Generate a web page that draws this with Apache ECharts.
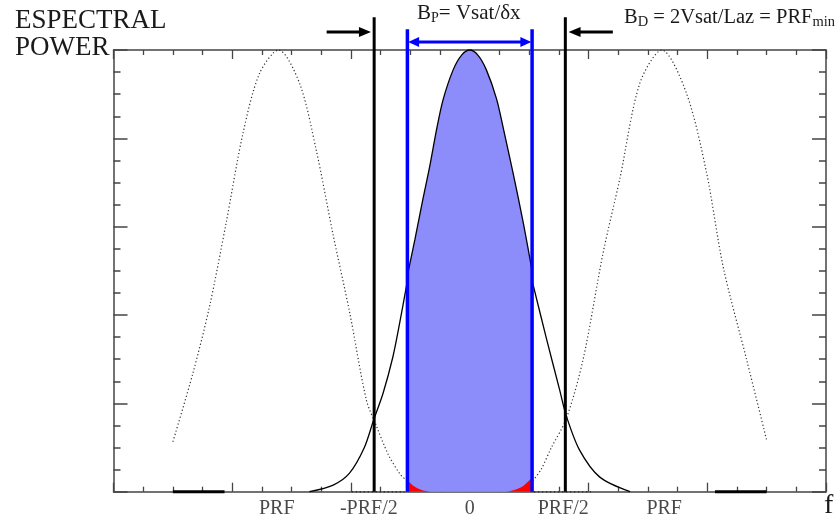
<!DOCTYPE html>
<html><head><meta charset="utf-8">
<script src="https://cdn.jsdelivr.net/npm/echarts@6/dist/echarts.min.js"></script>
<style>html,body{margin:0;padding:0;background:#fff}#c{width:840px;height:521px}</style>
</head><body><div id="c"></div>
<script>
// frequency axis in arbitrary units, power normalised to 1
const halfPRF = 3.22;
const bandEdge = 2.1;
const tickLabelPositions = [-6.5, -3.4, 0, 3.15, 6.55];
const tickLabels = ['PRF', '-PRF/2', '0', 'PRF/2', 'PRF'];

const mainInner = [[-2.1,0.49],[-1.85,0.57],[-1.57,0.665],[-1.35,0.736],[-1.12,0.819],[-0.9,0.887],[-0.56,0.955],[-0.28,0.988],[0,1],[0.28,0.988],[0.56,0.955],[0.9,0.89],[1.12,0.826],[1.46,0.721],[1.8,0.61],[2.02,0.53],[2.1,0.5]];
const mainLeftTail = [[-5.4,0],[-4.6,0.015],[-4.05,0.042],[-3.55,0.1],[-3.24,0.162],[-2.92,0.223],[-2.59,0.305],[-2.36,0.382],[-2.12,0.47]];
const mainRightTail = [[2.12,0.472],[2.59,0.345],[3.03,0.23],[3.25,0.172],[3.7,0.094],[4.38,0.033],[5.4,0]];
const leftAlias = [[-10,0.113],[-9.33,0.267],[-8.77,0.418],[-8.21,0.607],[-7.64,0.811],[-7.08,0.947],[-6.44,1.0],[-5.73,0.924],[-5.17,0.773],[-4.61,0.584],[-4.04,0.404],[-3.48,0.207],[-3.15,0.15],[-2.75,0.085],[-2.36,0.041],[-2.12,0.025]];
const rightAlias = [[2.12,0.025],[2.4,0.05],[2.75,0.1],[3.25,0.165],[3.82,0.3],[4.49,0.54],[5.06,0.71],[5.73,0.925],[6.47,1.0],[7.3,0.902],[7.98,0.721],[8.54,0.508],[9.33,0.298],[10.0,0.117]];
const redLeft = [[-2.1,0.026],[-1.85,0.011],[-1.6,0.003],[-1.35,0]];
const redRight = [[1.23,0],[1.5,0.004],[1.8,0.013],[2.1,0.032]];
const baseThickLeft = [[-10,0],[-8.26,0]];
const baseThickRight = [[8.26,0],[10,0]];
const baseDotsLeft = [[-3.98,0],[-2.2,0]];
const baseDotsRight = [[2.16,0],[4.08,0]];
const blackLineTop = 1.074;
const blueLineTop = 1.047;
const blackArrowY = 1.041;
const blueArrowY = 1.018;
const blackArrowFrom = 4.82, blackArrowHead = 3.53;
const blueArrowHead = 1.89;

const FONT = 'Liberation Serif';
const chart = echarts.init(document.getElementById('c'), null, {renderer: 'canvas'});

function axisX(pos) {
  return {
    type: 'value', position: pos, min: -12, max: 12, interval: 4,
    axisLine: {show: true, onZero: false, lineStyle: {color: '#444', width: 1.5}},
    axisTick: {show: true, inside: true, length: 9, lineStyle: {color: '#444', width: 1.3}},
    minorTick: {show: true, splitNumber: 4, length: 5, lineStyle: {color: '#444', width: 1.3}},
    axisLabel: {show: false}, splitLine: {show: false}, minorSplitLine: {show: false}
  };
}
function axisY(pos) {
  return {
    type: 'value', position: pos, min: 0, max: 1, interval: 0.2,
    axisLine: {show: true, onZero: false, lineStyle: {color: '#444', width: 1.5}},
    axisTick: {show: true, inside: true, length: 14, lineStyle: {color: '#444', width: 1.5}},
    minorTick: {show: true, splitNumber: 4, length: 7, lineStyle: {color: '#444', width: 1.5}},
    axisLabel: {show: false}, splitLine: {show: false}, minorSplitLine: {show: false}
  };
}
function line(data, style, extra) {
  return Object.assign({type: 'line', data: data, symbol: 'none', showSymbol: false, clip: false,
    animation: false, silent: true, lineStyle: style}, extra || {});
}
function arrow(x0, x1, y, color, width, size, both) {
  const rotEnd = x1 > x0 ? -90 : 90;
  const pts = [
    both ? {value: [x0, y], symbol: 'triangle', symbolRotate: -rotEnd, symbolSize: size}
         : {value: [x0, y], symbol: 'none'},
    {value: [x1, y], symbol: 'triangle', symbolRotate: rotEnd, symbolSize: size}
  ];
  return {type: 'line', data: pts, showSymbol: true, clip: false, animation: false, silent: true,
    lineStyle: {color: color, width: width}, itemStyle: {color: color, borderWidth: 0}};
}
const dotted = {color: '#333', width: 1.2, type: [1.2, 2.4]};
const solid = {color: '#000', width: 1.3};
const sm = {smooth: 0.3};

const series = [
  line(leftAlias, dotted, sm),
  line(rightAlias, dotted, sm),
  line(mainInner, solid, Object.assign({areaStyle: {color: '#8c8cfb', opacity: 1}}, sm)),
  line(redLeft, {width: 0}, Object.assign({areaStyle: {color: '#ff0000', opacity: 1}}, sm)),
  line(redRight, {width: 0}, Object.assign({areaStyle: {color: '#ff0000', opacity: 1}}, sm)),
  line(mainLeftTail, solid, sm),
  line(mainRightTail, solid, sm),
  line(baseThickLeft, {color: '#000', width: 3}),
  line(baseThickRight, {color: '#000', width: 3}),
  line(baseDotsLeft, {color: '#333', width: 1.5, type: [1.5, 2.5]}),
  line(baseDotsRight, {color: '#333', width: 1.5, type: [1.5, 2.5]}),
  line([[-halfPRF, 0], [-halfPRF, blackLineTop]], {color: '#000', width: 3}),
  line([[halfPRF, 0], [halfPRF, blackLineTop]], {color: '#000', width: 3}),
  line([[-bandEdge, 0], [-bandEdge, blueLineTop]], {color: '#0000ff', width: 3.5}),
  line([[bandEdge, 0], [bandEdge, blueLineTop]], {color: '#0000ff', width: 3.5}),
  arrow(-blackArrowFrom, -blackArrowHead, blackArrowY, '#000', 3, [10, 12], false),
  arrow(blackArrowFrom, blackArrowHead, blackArrowY, '#000', 3, [10, 12], false),
  arrow(-blueArrowHead, blueArrowHead, blueArrowY, '#0000ff', 3, [10, 11], true),
  {
    type: 'scatter', symbolSize: 0, silent: true, animation: false, clip: false,
    data: tickLabelPositions.map((x, i) => ({value: [x, 0], name: tickLabels[i]})),
    label: {show: true, position: 'inside', offset: [0, 17.5], formatter: p => p.name,
      fontFamily: FONT, fontSize: 20, color: '#1a1a1a'}
  }
];

chart.setOption({
  backgroundColor: '#fff',
  animation: false,
  grid: {left: 113.5, right: 14, top: 50, bottom: 29.3, containLabel: false, outerBoundsMode: 'none'},
  xAxis: [axisX('bottom'), axisX('top')],
  yAxis: [axisY('left'), axisY('right')],
  series: series,
  graphic: [
    {type: 'text', left: 15, top: 7, style: {text: 'ESPECTRAL', font: '27px "Liberation Serif"', fill: '#1a1a1a'}},
    {type: 'text', left: 15, top: 34, style: {text: 'POWER', font: '27px "Liberation Serif"', fill: '#1a1a1a'}},
    {type: 'text', left: 417, top: 3, style: {
      text: '{m|B}{s|P}{m|= Vsat/δx}',
      rich: {m: {fontFamily: FONT, fontSize: 21, lineHeight: 24, fill: '#1a1a1a', color: '#1a1a1a'},
             s: {fontFamily: FONT, fontSize: 14, lineHeight: 12, verticalAlign: 'bottom', fill: '#1a1a1a', color: '#1a1a1a'}}}},
    {type: 'text', left: 624, top: 7, style: {
      text: '{m|B}{s|D}{m| = 2Vsat/Laz = PRF}{s|min}',
      rich: {m: {fontFamily: FONT, fontSize: 20.5, lineHeight: 24, fill: '#1a1a1a', color: '#1a1a1a'},
             s: {fontFamily: FONT, fontSize: 14.5, lineHeight: 13, verticalAlign: 'bottom', fill: '#1a1a1a', color: '#1a1a1a'}}}},
    {type: 'text', left: 824, top: 492, style: {text: 'f', font: '28px "Liberation Serif"', fill: '#1a1a1a'}}
  ]
});
</script></body></html>
